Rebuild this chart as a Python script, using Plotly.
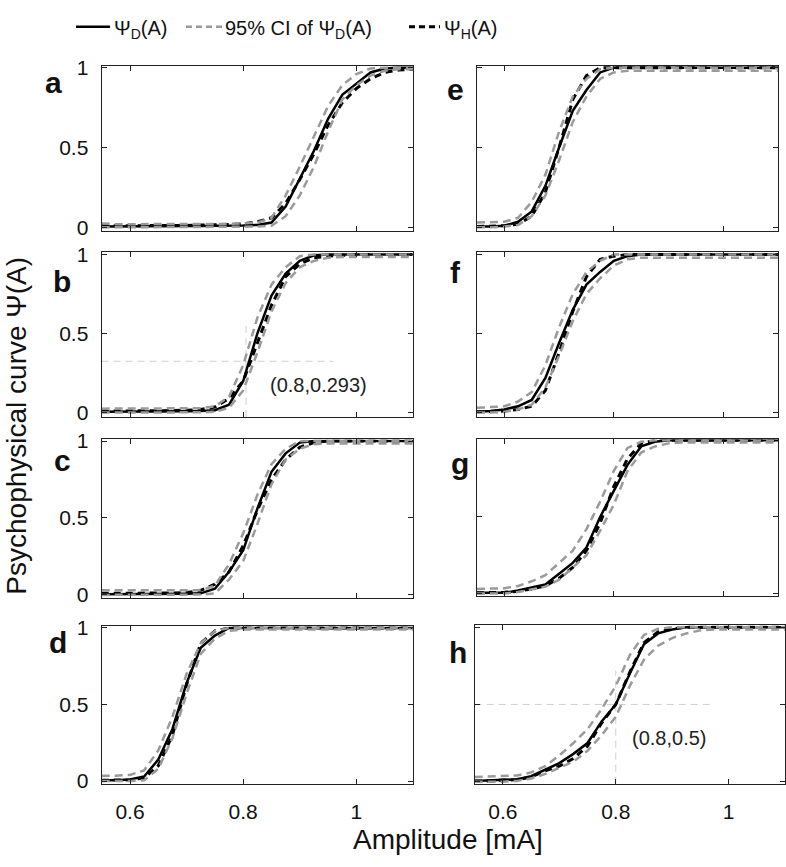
import plotly.graph_objects as go

# ---------------- data ----------------
amplitude = [0.55, 0.575, 0.6, 0.625, 0.65, 0.675, 0.7, 0.725, 0.75, 0.775, 0.8, 0.825,
             0.85, 0.875, 0.9, 0.925, 0.95, 0.975, 1.0, 1.025, 1.05, 1.075, 1.1]

# panel a
psiD_a = [0.005, 0.005, 0.005, 0.006, 0.006, 0.007, 0.008, 0.008, 0.01, 0.01, 0.012, 0.015,
          0.03, 0.13, 0.3, 0.48, 0.68, 0.83, 0.9, 0.97, 0.995, 1.0, 1.0]
psiH_a = [0.01, 0.01, 0.01, 0.01, 0.01, 0.012, 0.012, 0.015, 0.015, 0.018, 0.022, 0.035,
          0.06, 0.15, 0.3, 0.46, 0.64, 0.78, 0.87, 0.93, 0.97, 0.985, 0.99]
ciLo_a = [0.0, 0.0, 0.0, 0.0, 0.0, 0.0, 0.0, 0.0, 0.002, 0.003, 0.004, 0.006,
          0.01, 0.07, 0.2, 0.38, 0.6, 0.8, 0.89, 0.95, 0.98, 0.99, 0.99]
ciUp_a = [0.025, 0.02, 0.02, 0.02, 0.02, 0.02, 0.02, 0.02, 0.02, 0.022, 0.025, 0.03,
          0.06, 0.2, 0.38, 0.57, 0.76, 0.89, 0.96, 0.995, 1.0, 1.0, 1.0]
# panel b
psiD_b = [0.005, 0.005, 0.005, 0.005, 0.006, 0.007, 0.008, 0.01, 0.015, 0.05, 0.2, 0.5,
          0.74, 0.88, 0.96, 0.995, 1.0, 1.0, 1.0, 1.0, 1.0, 1.0, 1.0]
psiH_b = [0.01, 0.01, 0.01, 0.01, 0.012, 0.013, 0.015, 0.02, 0.035, 0.09, 0.2, 0.44,
          0.68, 0.86, 0.94, 0.98, 0.99, 0.995, 1.0, 1.0, 1.0, 1.0, 1.0]
ciLo_b = [0.0, 0.0, 0.0, 0.0, 0.0, 0.0, 0.0, 0.002, 0.005, 0.03, 0.14, 0.38,
          0.64, 0.82, 0.92, 0.96, 0.98, 0.985, 0.985, 0.985, 0.985, 0.985, 0.985]
ciUp_b = [0.025, 0.025, 0.025, 0.025, 0.025, 0.025, 0.025, 0.028, 0.04, 0.1, 0.3, 0.6,
          0.81, 0.92, 0.99, 1.0, 1.0, 1.0, 1.0, 1.0, 1.0, 1.0, 1.0]
# panel c
psiD_c = [0.005, 0.005, 0.005, 0.005, 0.006, 0.007, 0.008, 0.01, 0.04, 0.15, 0.29, 0.56,
          0.8, 0.92, 0.99, 1.0, 1.0, 1.0, 1.0, 1.0, 1.0, 1.0, 1.0]
psiH_c = [0.01, 0.01, 0.01, 0.01, 0.012, 0.013, 0.015, 0.03, 0.07, 0.15, 0.32, 0.55,
          0.75, 0.88, 0.96, 0.99, 1.0, 1.0, 1.0, 1.0, 1.0, 1.0, 1.0]
ciLo_c = [0.0, 0.0, 0.0, 0.0, 0.0, 0.0, 0.0, 0.002, 0.01, 0.1, 0.22, 0.46,
          0.72, 0.88, 0.95, 0.98, 0.985, 0.985, 0.985, 0.985, 0.985, 0.985, 0.985]
ciUp_c = [0.03, 0.03, 0.03, 0.03, 0.03, 0.03, 0.03, 0.03, 0.06, 0.2, 0.4, 0.65,
          0.85, 0.95, 1.0, 1.0, 1.0, 1.0, 1.0, 1.0, 1.0, 1.0, 1.0]
# panel d
psiD_d = [0.005, 0.005, 0.01, 0.03, 0.14, 0.34, 0.64, 0.87, 0.95, 1.0, 1.0, 1.0,
          1.0, 1.0, 1.0, 1.0, 1.0, 1.0, 1.0, 1.0, 1.0, 1.0, 1.0]
psiH_d = [0.005, 0.005, 0.008, 0.02, 0.1, 0.3, 0.63, 0.9, 0.98, 1.0, 1.0, 1.0,
          1.0, 1.0, 1.0, 1.0, 1.0, 1.0, 1.0, 1.0, 1.0, 1.0, 1.0]
ciLo_d = [0.0, 0.0, 0.0, 0.005, 0.08, 0.28, 0.57, 0.83, 0.93, 0.98, 0.99, 0.99,
          0.99, 0.99, 0.99, 0.99, 0.99, 0.99, 0.99, 0.99, 0.99, 0.99, 0.99]
ciUp_d = [0.035, 0.035, 0.04, 0.07, 0.2, 0.42, 0.7, 0.9, 0.98, 1.0, 1.0, 1.0,
          1.0, 1.0, 1.0, 1.0, 1.0, 1.0, 1.0, 1.0, 1.0, 1.0, 1.0]
# panel e
psiD_e = [0.005, 0.005, 0.01, 0.035, 0.1, 0.26, 0.5, 0.73, 0.86, 0.97, 1.0, 1.0,
          1.0, 1.0, 1.0, 1.0, 1.0, 1.0, 1.0, 1.0, 1.0, 1.0, 1.0]
psiH_e = [0.005, 0.008, 0.01, 0.02, 0.07, 0.22, 0.5, 0.8, 0.95, 1.0, 1.0, 1.0,
          1.0, 1.0, 1.0, 1.0, 1.0, 1.0, 1.0, 1.0, 1.0, 1.0, 1.0]
ciLo_e = [0.0, 0.0, 0.005, 0.015, 0.07, 0.2, 0.42, 0.66, 0.82, 0.93, 0.97, 0.98,
          0.98, 0.98, 0.98, 0.98, 0.98, 0.98, 0.98, 0.98, 0.98, 0.98, 0.98]
ciUp_e = [0.03, 0.032, 0.035, 0.06, 0.16, 0.33, 0.6, 0.82, 0.93, 0.99, 1.0, 1.0,
          1.0, 1.0, 1.0, 1.0, 1.0, 1.0, 1.0, 1.0, 1.0, 1.0, 1.0]
# panel f
psiD_f = [0.005, 0.01, 0.02, 0.04, 0.08, 0.22, 0.44, 0.65, 0.81, 0.89, 0.96, 0.99,
          1.0, 1.0, 1.0, 1.0, 1.0, 1.0, 1.0, 1.0, 1.0, 1.0, 1.0]
psiH_f = [0.005, 0.007, 0.01, 0.02, 0.04, 0.14, 0.38, 0.64, 0.86, 0.97, 0.99, 1.0,
          1.0, 1.0, 1.0, 1.0, 1.0, 1.0, 1.0, 1.0, 1.0, 1.0, 1.0]
ciLo_f = [0.0, 0.0, 0.005, 0.02, 0.05, 0.16, 0.36, 0.58, 0.75, 0.85, 0.93, 0.97,
          0.98, 0.98, 0.98, 0.98, 0.98, 0.98, 0.98, 0.98, 0.98, 0.98, 0.98]
ciUp_f = [0.03, 0.035, 0.04, 0.07, 0.13, 0.3, 0.54, 0.75, 0.89, 0.96, 1.0, 1.0,
          1.0, 1.0, 1.0, 1.0, 1.0, 1.0, 1.0, 1.0, 1.0, 1.0, 1.0]
# panel g
psiD_g = [0.005, 0.005, 0.005, 0.02, 0.04, 0.06, 0.13, 0.2, 0.3, 0.5, 0.67, 0.84,
          0.96, 0.99, 1.0, 1.0, 1.0, 1.0, 1.0, 1.0, 1.0, 1.0, 1.0]
psiH_g = [0.005, 0.005, 0.008, 0.015, 0.03, 0.05, 0.1, 0.17, 0.28, 0.46, 0.7, 0.88,
          0.98, 1.0, 1.0, 1.0, 1.0, 1.0, 1.0, 1.0, 1.0, 1.0, 1.0]
ciLo_g = [0.0, 0.0, 0.0, 0.01, 0.03, 0.045, 0.09, 0.17, 0.25, 0.41, 0.58, 0.8,
          0.92, 0.96, 0.98, 0.985, 0.985, 0.985, 0.985, 0.985, 0.985, 0.985, 0.985]
ciUp_g = [0.03, 0.032, 0.035, 0.05, 0.08, 0.12, 0.2, 0.28, 0.42, 0.6, 0.8, 0.95,
          0.99, 1.0, 1.0, 1.0, 1.0, 1.0, 1.0, 1.0, 1.0, 1.0, 1.0]
# panel h
psiD_h = [0.005, 0.008, 0.015, 0.015, 0.035, 0.08, 0.12, 0.18, 0.25, 0.39, 0.5, 0.7,
          0.89, 0.96, 0.985, 1.0, 1.0, 1.0, 1.0, 1.0, 1.0, 1.0, 1.0]
psiH_h = [0.005, 0.005, 0.01, 0.012, 0.03, 0.07, 0.1, 0.15, 0.23, 0.38, 0.5, 0.71,
          0.9, 0.97, 0.99, 1.0, 1.0, 1.0, 1.0, 1.0, 1.0, 1.0, 1.0]
ciLo_h = [0.0, 0.0, 0.0, 0.005, 0.02, 0.05, 0.09, 0.13, 0.2, 0.3, 0.42, 0.62,
          0.79, 0.88, 0.93, 0.96, 0.98, 0.985, 0.985, 0.985, 0.985, 0.985, 0.985]
ciUp_h = [0.03, 0.032, 0.035, 0.04, 0.06, 0.1, 0.17, 0.25, 0.34, 0.47, 0.62, 0.82,
          0.95, 0.99, 1.0, 1.0, 1.0, 1.0, 1.0, 1.0, 1.0, 1.0, 1.0]

panel_labels = ["a", "b", "c", "d", "e", "f", "g", "h"]
x_tick_vals = [0.6, 0.8, 1.0]
x_tick_text = ["0.6", "0.8", "1"]
y_tick_vals = [0, 0.5, 1]
y_tick_text = ["0", "0.5", "1"]

# reference markers (crosshairs)
mark_b_x = 0.805
mark_b_y = 0.325
mark_b_xend = 0.959
mark_b_ytop = 0.55
mark_b_text = "(0.8,0.293)"
mark_h_x = 0.8
mark_h_y = 0.5
mark_h_xend = 0.971
mark_h_ytop = 0.72
mark_h_text = "(0.8,0.5)"

legend_labels = ["Ψ<sub>D</sub>(A)", "95% CI of Ψ<sub>D</sub>(A)", "Ψ<sub>H</sub>(A)"]

series = {
    "a": (psiD_a, psiH_a, ciLo_a, ciUp_a),
    "b": (psiD_b, psiH_b, ciLo_b, ciUp_b),
    "c": (psiD_c, psiH_c, ciLo_c, ciUp_c),
    "d": (psiD_d, psiH_d, ciLo_d, ciUp_d),
    "e": (psiD_e, psiH_e, ciLo_e, ciUp_e),
    "f": (psiD_f, psiH_f, ciLo_f, ciUp_f),
    "g": (psiD_g, psiH_g, ciLo_g, ciUp_g),
    "h": (psiD_h, psiH_h, ciLo_h, ciUp_h),
}

# ---------------- layout geometry (pixels) ----------------
W, H = 786, 867
geom = {
    "a": ((101.7, 413), (57.3, 226), (-0.023, 1.01)),
    "b": ((101.7, 413), (247.3, 416), (-0.027, 1.017)),
    "c": ((101.7, 413), (439, 601), (-0.019, 1.011)),
    "d": ((101.7, 413), (630, 791), (-0.017, 1.011)),
    "e": ((477, 778), (57.3, 226), (-0.023, 1.01)),
    "f": ((477, 778), (247.3, 416), (-0.027, 1.017)),
    "g": ((477, 778), (439, 599), (-0.015, 1.006)),
    "h": ((474.7, 785), (629, 791), (-0.013, 1.013)),
}
label_pos = {"a": (53, 74), "b": (62, 278), "c": (62, 461), "d": (58, 647),
             "e": (455, 81), "f": (455, 268), "g": (460, 464), "h": (458, 657)}

FONT = "Liberation Sans, Arial, Helvetica, sans-serif"
AXC = "#222222"
GRAY = "#9a9a9a"

fig = go.Figure()
layout = dict(width=W, height=H, margin=dict(l=0, r=0, t=0, b=0),
              paper_bgcolor="white", plot_bgcolor="white", showlegend=False,
              font=dict(family=FONT, color="#111111"))
annotations = []
shapes = []

for i, p in enumerate(panel_labels):
    n = "" if i == 0 else str(i + 1)
    xr, yr, yrange = geom[p]
    left_col = p in "abcd"
    bottom_row = p in "dh"
    layout["xaxis" + n] = dict(
        domain=[xr[0] / W, xr[1] / W], range=[0.55, 1.1], anchor="y" + n,
        tickvals=x_tick_vals, ticktext=x_tick_text, showticklabels=bottom_row,
        ticks="inside", ticklen=5, tickwidth=1, tickcolor=AXC,
        showline=True, linecolor=AXC, linewidth=1.2, mirror="ticks",
        showgrid=False, zeroline=False, ticklabelstandoff=9,
        tickfont=dict(size=21, family=FONT, color="#111111"))
    layout["yaxis" + n] = dict(
        domain=[1 - yr[1] / H, 1 - yr[0] / H], range=list(yrange), anchor="x" + n,
        tickvals=y_tick_vals, ticktext=y_tick_text, showticklabels=left_col,
        ticks="inside", ticklen=5, tickwidth=1, tickcolor=AXC,
        showline=True, linecolor=AXC, linewidth=1.2, mirror="ticks",
        showgrid=False, zeroline=False, ticklabelstandoff=8,
        tickfont=dict(size=21, family=FONT, color="#111111"))
    xa, ya = "x" + n, "y" + n
    dD, dH, lo, up = series[p]

    if p == "b":
        fig.add_trace(go.Scatter(x=[0.55, mark_b_xend], y=[mark_b_y, mark_b_y], mode="lines",
                                 line=dict(color="#cfcfcf", width=1, dash="7px,5px"),
                                 xaxis=xa, yaxis=ya, hoverinfo="skip"))
        fig.add_trace(go.Scatter(x=[mark_b_x, mark_b_x], y=[yrange[0], mark_b_ytop], mode="lines",
                                 line=dict(color="#cfcfcf", width=1, dash="7px,5px"),
                                 xaxis=xa, yaxis=ya, hoverinfo="skip"))
        annotations.append(dict(x=0.844, y=0.177, xref=xa, yref=ya, text=mark_b_text,
                                showarrow=False, xanchor="left", yanchor="middle",
                                font=dict(size=20, family=FONT, color="#222222")))
    if p == "h":
        fig.add_trace(go.Scatter(x=[0.55, mark_h_xend], y=[mark_h_y, mark_h_y], mode="lines",
                                 line=dict(color="#cfcfcf", width=1, dash="7px,5px"),
                                 xaxis=xa, yaxis=ya, hoverinfo="skip"))
        fig.add_trace(go.Scatter(x=[mark_h_x, mark_h_x], y=[yrange[0], mark_h_ytop], mode="lines",
                                 line=dict(color="#cfcfcf", width=1, dash="7px,5px"),
                                 xaxis=xa, yaxis=ya, hoverinfo="skip"))
        annotations.append(dict(x=0.825, y=0.28, xref=xa, yref=ya, text=mark_h_text,
                                showarrow=False, xanchor="left", yanchor="middle",
                                font=dict(size=20, family=FONT, color="#222222")))

    fig.add_trace(go.Scatter(x=amplitude, y=dD, mode="lines",
                             line=dict(color="black", width=2.5), xaxis=xa, yaxis=ya))
    fig.add_trace(go.Scatter(x=amplitude, y=dH, mode="lines",
                             line=dict(color="black", width=3, dash="7px,5px"), xaxis=xa, yaxis=ya))
    for c in (lo, up):
        fig.add_trace(go.Scatter(x=amplitude, y=c, mode="lines",
                                 line=dict(color=GRAY, width=2.5, dash="8px,5px"),
                                 xaxis=xa, yaxis=ya))

    lx, ly = label_pos[p]
    annotations.append(dict(x=lx / W, y=1 - ly / H, xref="paper", yref="paper", text="<b>%s</b>" % p,
                            showarrow=False, xanchor="center", yanchor="middle",
                            font=dict(size=30, family=FONT, color="#111111")))

# axis titles
annotations.append(dict(x=448 / W, y=1 - 848 / H, xref="paper", yref="paper", text="Amplitude [mA]",
                        showarrow=False, xanchor="center", yanchor="middle",
                        font=dict(size=28, family=FONT, color="#111111")))
annotations.append(dict(x=17 / W, y=1 - 425 / H, xref="paper", yref="paper",
                        text="Psychophysical curve Ψ(A)", textangle=-90,
                        showarrow=False, xanchor="center", yanchor="middle",
                        font=dict(size=28, family=FONT, color="#111111")))

# legend (keys + labels)
leg_keys = [((76, 110), dict(color="black", width=2.5)),
            ((186, 222), dict(color=GRAY, width=2.5, dash="6px,4px")),
            ((409, 440), dict(color="black", width=3, dash="6px,4px"))]
leg_text_x = [112, 223, 442]
for (x0, x1), ln in leg_keys:
    shapes.append(dict(type="line", xref="paper", yref="paper", x0=x0 / W, x1=x1 / W,
                       y0=1 - 17 / H, y1=1 - 17 / H, line=ln))
for tx, lab in zip(leg_text_x, legend_labels):
    annotations.append(dict(x=tx / W, y=1 - 20 / H, xref="paper", yref="paper", text=lab,
                            showarrow=False, xanchor="left", yanchor="middle",
                            font=dict(size=20, family=FONT, color="#111111")))

layout["annotations"] = annotations
layout["shapes"] = shapes
fig.update_layout(**layout)
fig.write_html("out.html")
